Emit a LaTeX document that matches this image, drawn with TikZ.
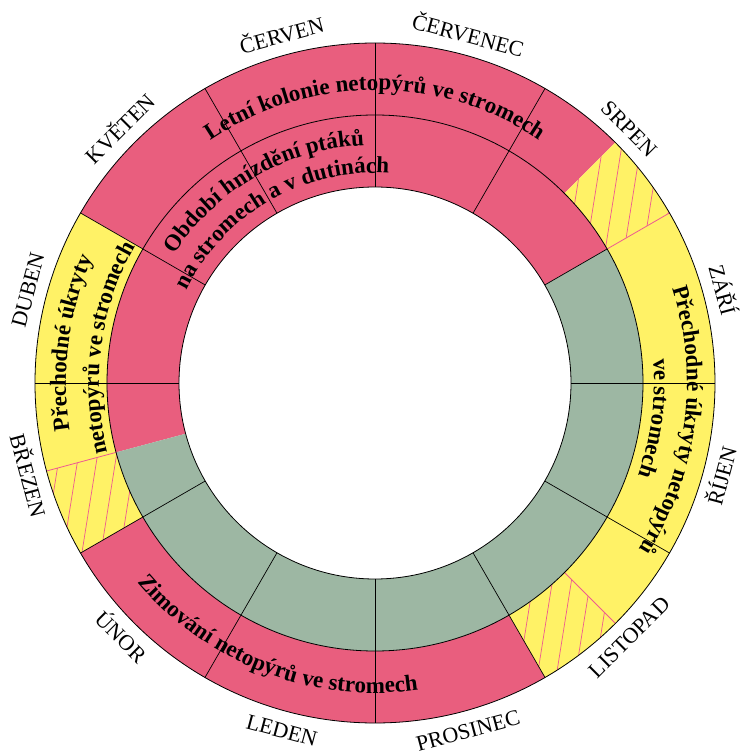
\documentclass[tikz,border=0pt]{standalone}
\usepackage{fontspec}
\setmainfont{Liberation Serif}
\usetikzlibrary{decorations.text}
\definecolor{rpink}{HTML}{E95E7E}
\definecolor{ryellow}{HTML}{FFF266}
\definecolor{rgreen}{HTML}{9DB7A3}
\definecolor{hatchpink}{HTML}{EE5A90}
\newcommand\ringsector[5]{\fill[#5] (#1:#3) arc[start angle=#1, end angle=#2, radius=#3] -- (#2:#4) arc[start angle=#2, end angle=#1, radius=#4] -- cycle;}
\newcommand\hatchsector[2]{%
  \begin{scope}
    \clip (#1:268) arc[start angle=#1, end angle=#2, radius=268] -- (#2:340) arc[start angle=#2, end angle=#1, radius=340] -- cycle;
    \foreach \hx in {-532,-513,...,532} \draw[hatchline] (\hx-63,-395) -- (\hx+63,395);
  \end{scope}}
\tikzset{
  hatchline/.style={draw=hatchpink, line width=0.7pt},
  monthline/.style={draw=black, line width=0.7pt},
  pinkline/.style={draw=hatchpink, line width=0.8pt},
  topmonth/.style={anchor=base, inner sep=0pt, font=\fontsize{22}{26}\selectfont},
  botmonth/.style={anchor=base, inner sep=0pt, font=\fontsize{22}{26}\selectfont},
  ringtext/.style={decorate, decoration={text along path, text align=center, text={#1}}},
}
\begin{document}
\begin{tikzpicture}[x=1pt,y=1pt]
\useasboundingbox (-375,-369) rectangle (365,383);
% outer ring
\ringsector{45}{150}{268}{340}{rpink}
\ringsector{150}{195}{268}{340}{ryellow}
\ringsector{195}{210}{268}{340}{ryellow}
\ringsector{210}{300}{268}{340}{rpink}
\ringsector{300}{315}{268}{340}{ryellow}
\ringsector{315}{390}{268}{340}{ryellow}
\ringsector{30}{45}{268}{340}{ryellow}
% inner ring
\ringsector{30}{195}{196}{268}{rpink}
\ringsector{195}{390}{196}{268}{rgreen}
% hatching
\hatchsector{30}{45}
\hatchsector{195}{210}
\hatchsector{300}{315}
% radial month lines
\foreach \a in {0,60,90,120,150,180,210,240,270,300,330}
  \draw[monthline] (\a:196) -- (\a:340);
\draw[monthline] (30:196) -- (30:268);
\draw[pinkline] (30:268) -- (30:340);
\draw[pinkline] (195:268) -- (195:340);
\draw[pinkline] (315:268) -- (315:340);
% circles
\draw[line width=0.8pt] (0,0) circle[radius=196];
\draw[line width=0.8pt] (0,0) circle[radius=268];
\draw[line width=0.8pt] (0,0) circle[radius=340];
% month labels
\node[topmonth, rotate=15]  (cerven)   at (105:352) {ČERVEN};
\node[topmonth, rotate=-15] (cervenec) at (75:352)  {ČERVENEC};
\node[topmonth, rotate=-45] (srpen)    at (45:352)  {SRPEN};
\node[topmonth, rotate=-75] (zari)     at (15:352)  {ZÁŘÍ};
\node[topmonth, rotate=45]  (kveten)   at (135:352) {KVĚTEN};
\node[topmonth, rotate=75]  (duben)    at (165:352) {DUBEN};
\node[botmonth, rotate=75]  (rijen)    at (-15:367)  {ŘÍJEN};
\node[botmonth, rotate=45]  (listopad) at (-45:367)  {LISTOPAD};
\node[botmonth, rotate=15]  (prosinec) at (-75:367)  {PROSINEC};
\node[botmonth, rotate=-15] (leden)    at (-105:367) {LEDEN};
\node[botmonth, rotate=-45] (unor)     at (-135:367) {ÚNOR};
\node[botmonth, rotate=-75] (brezen)   at (-165:367) {BŘEZEN};
% ring texts
\path[ringtext={|\fontsize{23}{27}\selectfont\bfseries|Letní kolonie netopýrů ve stromech}]
  (150:293) arc[start angle=150, end angle=30, radius=293];
\path[ringtext={|\fontsize{23}{27}\selectfont\bfseries|Období hnízdění ptáků}]
  (180:238) arc[start angle=180, end angle=60, radius=238];
\path[ringtext={|\fontsize{23}{27}\selectfont\bfseries|na stromech a v dutinách}]
  (180:210) arc[start angle=180, end angle=60, radius=210];
\path[ringtext={|\fontsize{23}{27}\selectfont\bfseries|Přechodné úkryty}]
  (217.5:309) arc[start angle=217.5, end angle=127.5, radius=309];
\path[ringtext={|\fontsize{23}{27}\selectfont\bfseries|netopýrů ve stromech}]
  (217.5:276) arc[start angle=217.5, end angle=127.5, radius=276];
\path[ringtext={|\fontsize{23}{27}\selectfont\bfseries|Přechodné úkryty netopýrů}]
  (42.7:312) arc[start angle=42.7, end angle=-57.3, radius=312];
\path[ringtext={|\fontsize{23}{27}\selectfont\bfseries|ve stromech}]
  (42.7:279) arc[start angle=42.7, end angle=-57.3, radius=279];
\path[ringtext={|\fontsize{23}{27}\selectfont\bfseries|Zimování netopýrů ve stromech}]
  (189:310) arc[start angle=189, end angle=309, radius=310];
\end{tikzpicture}
\end{document}
